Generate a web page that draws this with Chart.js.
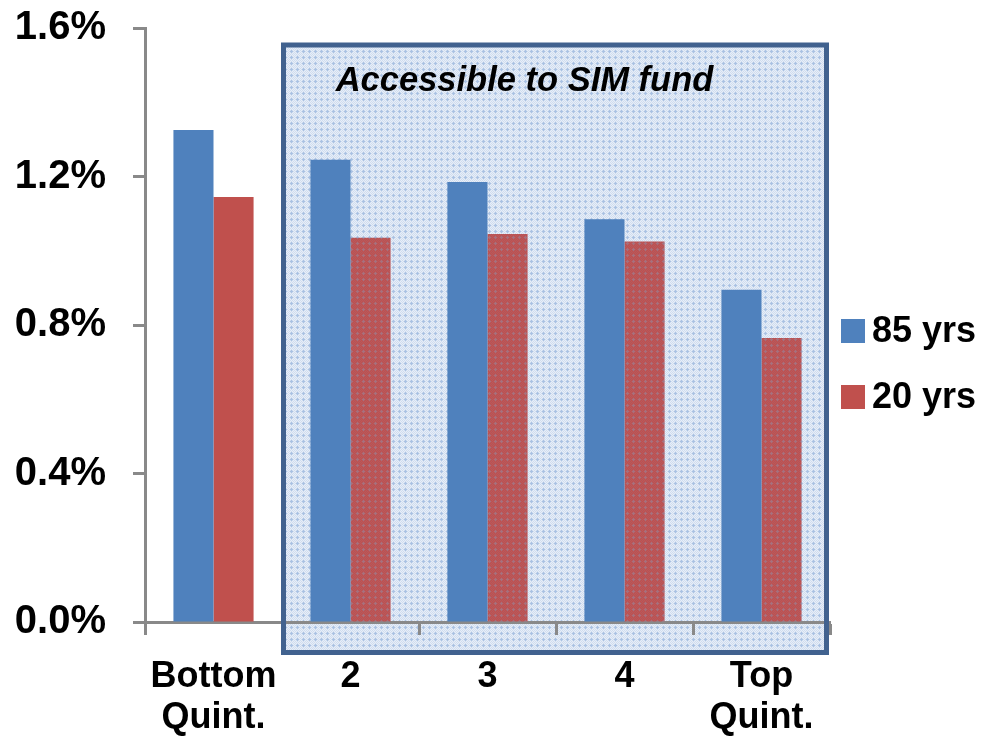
<!DOCTYPE html>
<html>
<head>
<meta charset="utf-8">
<script src="https://cdn.jsdelivr.net/npm/chart.js@4/dist/chart.umd.min.js"></script>
<style>
  html, body { margin: 0; padding: 0; background: #ffffff; }
  #wrap { width: 987px; height: 740px; position: relative; }
</style>
</head>
<body>
<div id="wrap"><canvas id="c" width="987" height="740"></canvas></div>
<script>
// Categories (income quintiles) and the two series, in percent
const categories = [['Bottom', 'Quint.'], '2', '3', '4', ['Top', 'Quint.']];
const seriesNames = ['85 yrs', '20 yrs'];
const values85 = [1.325, 1.245, 1.185, 1.085, 0.895];
const values20 = [1.145, 1.035, 1.045, 1.025, 0.765];
const yTicks = [0, 0.4, 0.8, 1.2, 1.6];
const boxTitle = 'Accessible to SIM fund';
const boxFirst = 1, boxLast = 4;   // quintiles covered by the highlighted box

const FONT = "'Liberation Sans', Arial, sans-serif";
const BLUE = '#4f81bd';
const RED = '#c0504d';
const AXIS = '#898989';
const BOX_EDGE = '#41628f';

// small dotted fill used for the highlighted region
function makePattern(base, checker, cross) {
  const p = document.createElement('canvas');
  p.width = 6; p.height = 6;
  const g = p.getContext('2d');
  g.fillStyle = base; g.fillRect(0, 0, 6, 6);
  g.fillStyle = checker;
  for (let y = 0; y < 6; y++) for (let x = 0; x < 6; x++) if ((x + y) % 2 === 0) g.fillRect(x, y, 1, 1);
  g.fillStyle = cross;
  [[3,2],[3,3],[3,4],[2,3],[4,3]].forEach(([x, y]) => g.fillRect(x, y, 1, 1));
  return document.getElementById('c').getContext('2d').createPattern(p, 'repeat');
}
const boxFill = makePattern('#e7eef8', '#d0ddef', '#aac2e3');
const redInBox = makePattern('#c0504d', '#b45a60', '#a8707c');

function boxRect(chart) {
  const xs = chart.scales.x, ca = chart.chartArea;
  const step = xs.getPixelForValue(1) - xs.getPixelForValue(0);
  return {
    left: xs.getPixelForValue(boxFirst) - step / 2 + 1.5,
    right: xs.getPixelForValue(boxLast) + step / 2 - 3.5,
    top: ca.top + 17,
    bottom: ca.bottom + 30.5
  };
}

const highlightBox = {
  id: 'highlightBox',
  beforeDraw(chart) {
    const b = boxRect(chart), ctx = chart.ctx;
    ctx.save();
    ctx.fillStyle = boxFill;
    ctx.fillRect(b.left, b.top, b.right - b.left, b.bottom - b.top);
    ctx.restore();
  },
  afterDatasetsDraw(chart) {
    const b = boxRect(chart), ctx = chart.ctx;
    ctx.save();
    ctx.strokeStyle = BOX_EDGE;
    ctx.lineWidth = 5;
    ctx.strokeRect(b.left, b.top, b.right - b.left, b.bottom - b.top);
    ctx.fillStyle = '#000';
    ctx.font = "italic bold 34.5px " + FONT;
    ctx.textAlign = 'center';
    ctx.textBaseline = 'middle';
    ctx.fillText(boxTitle, b.left + 241, b.top + 36);
    ctx.restore();
  }
};

// legend at the right, built from the datasets
const sideLegend = {
  id: 'sideLegend',
  afterDraw(chart) {
    const ctx = chart.ctx;
    ctx.save();
    ctx.font = "bold 36px " + FONT;
    ctx.textBaseline = 'middle';
    ctx.textAlign = 'left';
    chart.data.datasets.forEach((ds, i) => {
      const cy = 331 + i * 66;
      ctx.fillStyle = ds.legendColor;
      ctx.fillRect(841, cy - 12, 24, 24);
      ctx.fillStyle = '#000';
      ctx.fillText(ds.label, 872, cy + 1);
    });
    ctx.restore();
  }
};

new Chart(document.getElementById('c'), {
  type: 'bar',
  data: {
    labels: categories,
    datasets: [
      { label: seriesNames[0], data: values85, backgroundColor: BLUE, legendColor: BLUE, borderWidth: 0 },
      { label: seriesNames[1], data: values20, legendColor: RED, borderWidth: 0,
        backgroundColor: values20.map((_, i) => (i >= boxFirst && i <= boxLast) ? redInBox : RED) }
    ]
  },
  options: {
    responsive: false,
    animation: false,
    devicePixelRatio: 1,
    layout: { padding: { top: 28, right: 157, left: 0, bottom: 0 } },
    plugins: { legend: { display: false }, tooltip: { enabled: false } },
    datasets: { bar: { barPercentage: 1, categoryPercentage: 0.585 } },
    scales: {
      x: {
        offset: true,
        afterFit(s) { s.height = 118; },
        grid: { display: true, drawOnChartArea: false, drawTicks: true, tickLength: 13,
                tickWidth: 3, tickColor: AXIS, offset: true },
        border: { display: true, color: AXIS, width: 3 },
        ticks: { color: '#000', padding: 22, maxRotation: 0, autoSkip: false,
                 font: { family: FONT, size: 36, weight: 'bold', lineHeight: 1.14 } }
      },
      y: {
        min: 0, max: 1.6,
        afterFit(s) { s.width = 145; s.paddingTop = 0; s.paddingBottom = 0; },
        afterBuildTicks(s) { s.ticks = yTicks.map(v => ({ value: v })); },
        grid: { display: true, drawOnChartArea: false, drawTicks: true, tickLength: 12,
                tickWidth: 3, tickColor: AXIS },
        border: { display: true, color: AXIS, width: 3 },
        ticks: { color: '#000', padding: 27, callback: v => v.toFixed(1) + '%',
                 font: { family: FONT, size: 40, weight: 'bold' } }
      }
    }
  },
  plugins: [highlightBox, sideLegend]
});
</script>
</body>
</html>
